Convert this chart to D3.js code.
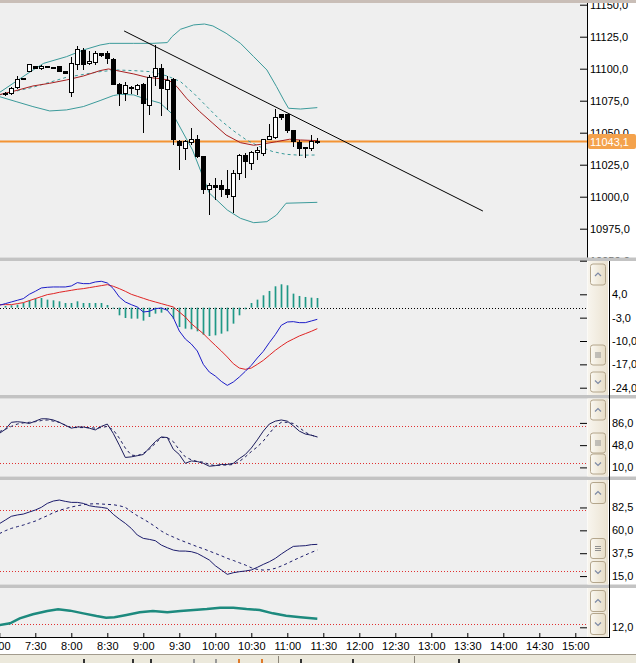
<!DOCTYPE html>
<html>
<head>
<meta charset="utf-8">
<script src="https://cdn.jsdelivr.net/npm/d3@7"></script>
<style>
  body { margin: 0; background: #fff; }
  svg { display: block; font-family: "Liberation Sans", Arial, sans-serif; font-size: 11px; }
</style>
</head>
<body>
<svg id="chart" width="636" height="663"></svg>
<script>
const parseT = d3.timeParse('%H:%M');

// 5 minute bars 7:05 .. 11:25, indicator points 7:00 .. 11:25
const barTimes = d3.timeMinute.range(parseT('7:05'), parseT('11:30'), 5);
const lineTimes = d3.timeMinute.range(parseT('7:00'), parseT('11:30'), 5);

const open  = [11080, 11080.5, 11085.5, 11092.5, 11098, 11102, 11100, 11101.7, 11101.3, 11101.5, 11098, 11081.5, 11103.5, 11114.5, 11104, 11104.5, 11112, 11112, 11107.5, 11088, 11080.5, 11084.5, 11084, 11087.5, 11071, 11094, 11100.5, 11083.5, 11091.5, 11043.5, 11038, 11042, 11045, 11031.5, 11005.5, 11008.5, 11008.5, 11005.5, 11000, 11018.5, 11032.5, 11026, 11034.5, 11034, 11045, 11046, 11064, 11064, 11051.5, 11042, 11038.5, 11038, 11043.3];
const high  = [11082, 11085.5, 11094.5, 11093, 11104, 11102.5, 11103, 11102, 11101.6, 11102, 11098.5, 11109.5, 11118, 11116, 11113.5, 11114, 11112.5, 11113.5, 11108, 11088.5, 11090, 11086.5, 11088, 11088.5, 11095, 11118.5, 11103.5, 11094, 11092.5, 11044.5, 11044.5, 11054, 11048, 11031.5, 11010.5, 11014.5, 11013, 11021, 11021, 11033, 11034, 11036, 11039, 11045, 11057, 11068.5, 11065, 11064.5, 11052.5, 11044, 11039, 11048, 11046];
const low   = [11079, 11079.5, 11084.5, 11091.5, 11097.5, 11100, 11099, 11101, 11100.8, 11097.5, 11095.5, 11078, 11099, 11099, 11103, 11103, 11109, 11104, 11087.5, 11071, 11074.5, 11080.5, 11079.5, 11050, 11064, 11086.5, 11063, 11068, 11040.5, 11020.5, 11028.5, 11040.5, 11030, 11002.5, 10985.5, 10997.5, 11000, 10999, 10987.5, 11013, 11015, 11020.5, 11029, 11031.5, 11044.5, 11045, 11060, 11049.5, 11039, 11032, 11030, 11036, 11041];
const close = [11081, 11084.5, 11091.5, 11092, 11103.5, 11100.5, 11102, 11101.3, 11101, 11098, 11096, 11104, 11115, 11103.5, 11106, 11112, 11110.5, 11108, 11088, 11080.5, 11086.5, 11085, 11086.5, 11073, 11093.5, 11100.5, 11084.5, 11091, 11044.5, 11040, 11043, 11045, 11031.5, 11005.5, 11009, 11007.5, 11006, 11002, 11018, 11032, 11027.5, 11034.5, 11036, 11044.5, 11047, 11062, 11062, 11051.5, 11043, 11037.5, 11037.5, 11043.5, 11043.1];
const lastPrice = 11043.1;

// overlays on the price panel [time, price]
const bbUpper = [['7:00', 11081.3], ['7:26', 11097.7], ['7:37', 11104.2], ['7:56', 11109.4], ['8:10', 11114.6], ['8:24', 11118.5], ['8:32', 11119.8], ['8:52', 11119.8], ['9:08', 11119.8], ['9:20', 11120.4], ['9:24', 11125.1], ['9:31', 11130.8], ['9:42', 11134.2], ['9:51', 11134.9], ['9:58', 11133.4], ['10:09', 11127.7], ['10:21', 11119.8], ['10:32', 11109.4], ['10:43', 11099], ['10:51', 11086], ['10:57', 11075.6], ['11:01', 11069.1], ['11:11', 11068.5], ['11:25', 11069.6]];
const bbMiddle = [['7:00', 11079.5], ['7:28', 11085.5], ['7:56', 11093.3], ['8:24', 11097.7], ['8:38', 11099], ['8:52', 11098.5], ['9:06', 11097.7], ['9:20', 11094.3], ['9:31', 11089.9], ['9:42', 11080.8], ['9:53', 11070.4], ['10:04', 11060], ['10:15', 11051.6], ['10:26', 11044.3], ['10:37', 11039.1], ['10:48', 11035.2], ['10:59', 11033.1], ['11:11', 11032.4], ['11:25', 11032.6]];
const bbLower = [['7:00', 11078.2], ['7:14', 11074.3], ['7:28', 11070.4], ['7:42', 11067], ['7:56', 11067.8], ['8:10', 11070.4], ['8:24', 11075.1], ['8:35', 11079], ['8:41', 11080], ['8:52', 11079.5], ['9:00', 11076.9], ['9:14', 11073.2], ['9:25', 11063.9], ['9:41', 11036.5], ['9:55', 11002.9], ['10:10', 10989.6], ['10:21', 10983.1], ['10:32', 10979.7], ['10:43', 10980.5], ['10:51', 10985.7], ['10:59', 10994.9], ['11:25', 10995.6]];
const movAvg = [['7:00', 11079.7], ['7:14', 11082.9], ['7:28', 11086.5], ['7:42', 11088.6], ['7:56', 11091.2], ['8:10', 11094.3], ['8:24', 11098.5], ['8:31', 11099.8], ['8:38', 11098.5], ['8:52', 11095.9], ['9:03', 11093.3], ['9:14', 11092.2], ['9:21', 11091.2], ['9:28', 11086], ['9:36', 11076.9], ['9:47', 11066.5], ['9:58', 11057.3], ['10:09', 11048.2], ['10:21', 11042.2], ['10:32', 11040.2], ['10:40', 11041.2], ['10:51', 11043], ['11:02', 11044.9], ['11:11', 11044.3], ['11:25', 11043.8]];
const trendLine = [['8:44', 11129.5], ['13:43', 10988.8]];

// MACD
const macdLine = [0.7, 1.2, 1.7, 2.2, 2.7, 4.0, 4.9, 5.9, 6.1, 6.2, 6.2, 6.2, 6.5, 7.5, 7.2, 7.2, 7.7, 7.9, 7.4, 5.7, 3.2, 1.7, 0.9, 0.2, -1.3, -1.1, -0.3, -0.1, -0.8, -3.0, -7.0, -9.4, -10.9, -13.0, -17.0, -19.3, -20.5, -22.1, -23.3, -22.3, -20.8, -19.1, -17.3, -15.1, -13.1, -10.5, -8.1, -5.3, -4.3, -4.2, -4.5, -4.5, -4.0, -3.5];
const macdSignal = [0.9, 0.9, 0.9, 1.2, 1.5, 2.1, 2.7, 3.3, 3.9, 4.2, 4.6, 4.9, 5.2, 5.5, 5.7, 6.0, 6.3, 6.6, 6.9, 6.4, 5.7, 4.9, 4.0, 3.4, 2.8, 2.2, 1.7, 1.2, 0.7, 0.2, -1.3, -2.8, -4.8, -6.3, -7.8, -9.6, -11.3, -13.0, -14.8, -16.8, -18.1, -18.5, -18.1, -17.0, -15.8, -14.3, -12.8, -11.5, -10.3, -9.4, -8.5, -7.8, -7.1, -6.3];
const macdHist = [0.5, 0.7, 0.9, 1.4, 2.2, 2.7, 2.9, 2.4, 2.2, 1.9, 1.4, 1.4, 1.9, 1.4, 1.4, 1.4, 1.4, 0.8, -0.3, -2.3, -3.1, -3.3, -3.3, -3.9, -2.8, -1.8, -1.5, -0.8, -3.3, -5.8, -6.3, -6.5, -7.1, -8.1, -8.5, -8.3, -7.8, -7.1, -4.8, -2.3, -0.5, 1.4, 2.4, 3.7, 5.0, 6.4, 7.0, 6.7, 4.2, 3.5, 3.2, 3.0, 2.9];

// Stochastic
const stochK = [68, 75, 87, 88, 87, 85, 89, 93, 93, 91, 87, 82, 77, 79, 79, 77, 74, 80, 84, 68, 48, 27, 28, 30, 32, 43, 54, 62, 61, 41, 32, 17, 21, 20, 17, 12, 13, 15, 15, 17, 25, 32, 43, 57, 72, 84, 89, 91, 89, 81, 72, 67, 65, 62];
const stochD = [71, 75, 80, 84, 86, 87, 88, 90, 91, 89, 87, 82, 78, 78, 78, 78, 77, 78, 80, 74, 60, 43, 31, 30, 34, 41, 51, 61, 61, 54, 40, 28, 23, 20, 19, 15, 13, 14, 14, 15, 20, 28, 37, 45, 55, 68, 80, 87, 87, 85, 78, 70, 65, 62];
const stochLevels = [80, 18];

// RSI
const rsiLine = [66.5, 70.1, 73.8, 75.1, 76.0, 78.0, 80.0, 82.6, 86.5, 88.8, 89.8, 88.5, 87.5, 87.5, 86.5, 84.2, 83.2, 82.6, 81.6, 75.7, 71.1, 66.9, 61.9, 55.4, 52.1, 51.1, 49.8, 45.5, 42.9, 40.6, 39.6, 39.6, 39.0, 37.3, 34.1, 30.8, 25.2, 21.0, 16.7, 18.3, 19.3, 20.0, 21.0, 23.6, 26.5, 29.1, 32.4, 36.7, 40.6, 44.2, 44.6, 44.9, 45.9, 46.2];
const rsiSignal = [56.7, 59.6, 61.9, 63.6, 65.2, 67.2, 69.1, 71.8, 74.4, 77.3, 79.6, 81.3, 82.9, 84.2, 85.2, 85.9, 86.2, 85.9, 85.5, 85.2, 84.2, 82.6, 78.3, 74.4, 71.1, 67.5, 63.6, 59.3, 56.0, 53.4, 50.8, 48.5, 46.2, 43.9, 41.9, 39.6, 37.3, 35.0, 32.4, 30.4, 28.1, 25.9, 23.2, 21.6, 20.9, 21.3, 22.6, 24.9, 27.5, 30.4, 33.1, 35.7, 38.3, 40.6];
const rsiLevels = [80, 20];

// bottom indicator
const volaLine = [['7:00', 13.5], ['7:09', 14.7], ['7:17', 18.0], ['7:28', 20.7], ['7:40', 22.9], ['7:49', 24.0], ['7:59', 23.1], ['8:10', 21.3], ['8:21', 19.5], ['8:29', 18.4], ['8:36', 18.7], ['8:46', 20.2], ['8:57', 22.0], ['9:08', 22.9], ['9:20', 22.0], ['9:31', 22.9], ['9:42', 23.5], ['9:53', 24.2], ['10:04', 25.1], ['10:15', 25.1], ['10:26', 24.2], ['10:37', 23.5], ['10:48', 21.3], ['10:59', 19.7], ['11:11', 18.7], ['11:25', 17.7]];
const volaLevel = 14;

// tick labels
const priceTicks = [10950, 10975, 11000, 11025, 11050, 11075, 11100, 11125, 11150];
const macdTicks = [4, -3, -10, -17, -24];
const stochTicks = [86, 48, 10];
const rsiTicks = [82.5, 60, 37.5, 15];
const volaTicks = [12];
const timeTicks = d3.timeMinute.range(parseT('7:00'), parseT('15:01'), 30);

const fmt = d3.formatLocale({decimal: ',', thousands: '.', grouping: [3], currency: ['', ''], minus: '-'}).format('.1f');
const fontFam = '"Liberation Sans", Arial, sans-serif';

const svg = d3.select('#chart');
const plotR = 587;

const x = d3.scaleTime().domain([parseT('7:00'), parseT('15:00')]).range([-0.7, 575.3]);
const yP = d3.scaleLinear().domain([10950, 11150]).range([260.7, 4.7]);
const yM = d3.scaleLinear().domain([-24, 4]).range([387.7, 294.3]);
const yS = d3.scaleLinear().domain([10, 86]).range([467.4, 422.9]);
const yR = d3.scaleLinear().domain([20, 80]).range([571, 510]);
const yV = d3.scaleLinear().domain([12, 40]).range([627.3, 585.3]);

const panels = [
  {top: 3, bottom: 257.5},
  {top: 261, bottom: 395},
  {top: 398.5, bottom: 476.5},
  {top: 480, bottom: 584.5},
  {top: 588, bottom: 638}
];

// ---- frame ----
svg.append('rect').attr('width', 636).attr('height', 663).attr('fill', '#fff');
svg.append('rect').attr('width', 636).attr('height', 3).attr('fill', '#c9beb7');
panels.forEach(p => {
  svg.append('rect').attr('x', 0).attr('y', p.top).attr('width', plotR).attr('height', p.bottom - p.top).attr('fill', '#efefef');
});
[257.5, 395, 476.5, 584.5].forEach(s => {
  svg.append('rect').attr('x', 0).attr('y', s).attr('width', 636).attr('height', 3.5).attr('fill', '#c3c3c3');
});

const defs = svg.append('defs');
defs.append('clipPath').attr('id', 'clipMain').append('rect').attr('x', 0).attr('y', 3).attr('width', plotR).attr('height', 254.5);
defs.append('clipPath').attr('id', 'clipPriceAxis').append('rect').attr('x', plotR).attr('y', 3).attr('width', 49).attr('height', 254.5);
const grad = defs.append('linearGradient').attr('id', 'btn').attr('x1', 0).attr('x2', 1).attr('y1', 0).attr('y2', 0);
grad.append('stop').attr('offset', 0).attr('stop-color', '#fbf9f3');
grad.append('stop').attr('offset', 1).attr('stop-color', '#e6dcc6');
const trackGrad = defs.append('linearGradient').attr('id', 'track').attr('x1', 0).attr('x2', 1).attr('y1', 0).attr('y2', 0);
trackGrad.append('stop').attr('offset', 0).attr('stop-color', '#f8f5ee');
trackGrad.append('stop').attr('offset', 1).attr('stop-color', '#ebe3d2');

function axisStyle(g) {
  g.attr('font-size', 11).attr('font-family', fontFam);
  g.select('.domain').remove();
  g.selectAll('line').attr('stroke', '#000');
  g.selectAll('text').attr('fill', '#000');
}

// ---- price panel ----
const main = svg.append('g').attr('clip-path', 'url(#clipMain)');
const lineP = d3.line().x(d => x(parseT(d[0]))).y(d => yP(d[1]));

main.append('line').attr('x1', 0).attr('x2', plotR).attr('y1', yP(lastPrice)).attr('y2', yP(lastPrice))
  .attr('stroke', '#f39434').attr('stroke-width', 2);

main.append('path').datum(bbUpper).attr('d', lineP).attr('fill', 'none').attr('stroke', '#3b9a9a');
main.append('path').datum(bbLower).attr('d', lineP).attr('fill', 'none').attr('stroke', '#3b9a9a');
main.append('path').datum(bbMiddle).attr('d', lineP).attr('fill', 'none').attr('stroke', '#3b9a9a').attr('stroke-dasharray', '3,3');
main.append('path').datum(movAvg).attr('d', lineP).attr('fill', 'none').attr('stroke', '#a82020');

const candles = barTimes.map((t, i) => ({t, o: open[i], h: high[i], l: low[i], c: close[i]}));
const cg = main.append('g').attr('shape-rendering', 'crispEdges');
cg.selectAll('line').data(candles).join('line')
  .attr('x1', d => Math.round(x(d.t)) + 0.5).attr('x2', d => Math.round(x(d.t)) + 0.5)
  .attr('y1', d => yP(d.h)).attr('y2', d => yP(d.l))
  .attr('stroke', '#000');
cg.selectAll('rect').data(candles).join('rect')
  .attr('x', d => Math.round(x(d.t)) - 1.5)
  .attr('width', 4)
  .attr('y', d => yP(Math.max(d.o, d.c)))
  .attr('height', d => Math.max(1, Math.abs(yP(d.o) - yP(d.c))))
  .attr('fill', d => d.c < d.o ? '#000' : '#fff')
  .attr('stroke', '#000');

main.append('path').datum(trendLine).attr('d', lineP).attr('fill', 'none').attr('stroke', '#000');

// price axis
svg.append('line').attr('x1', plotR + 0.5).attr('x2', plotR + 0.5).attr('y1', 3).attr('y2', 257.5).attr('stroke', '#000');
svg.append('g').attr('transform', `translate(${plotR},0)`)
  .call(d3.axisLeft(yP).tickValues(priceTicks).tickSize(7).tickFormat(''))
  .call(axisStyle);
svg.append('g').attr('clip-path', 'url(#clipPriceAxis)')
  .append('g').attr('transform', `translate(${plotR},0)`)
  .call(d3.axisRight(yP).tickValues(priceTicks).tickSize(0).tickPadding(3).tickFormat(fmt))
  .call(axisStyle);
svg.append('rect').attr('x', 588).attr('y', yP(lastPrice) - 7.5).attr('width', 48).attr('height', 15).attr('rx', 2)
  .attr('fill', '#f4a24c');
svg.append('text').attr('x', 590).attr('y', yP(lastPrice) + 4).attr('fill', '#fff').text(fmt(lastPrice));

// ---- lower panels ----
function refLines(scale, levels, color) {
  svg.append('g').selectAll('line').data(levels).join('line')
    .attr('x1', 0).attr('x2', plotR)
    .attr('y1', d => Math.round(scale(d)) + 0.5).attr('y2', d => Math.round(scale(d)) + 0.5)
    .attr('stroke', color).attr('stroke-dasharray', '1,2');
}
function seriesLine(scale, values, color, dash, width) {
  svg.append('path').datum(values)
    .attr('d', d3.line().x((d, i) => x(lineTimes[i])).y(d => scale(d)))
    .attr('fill', 'none').attr('stroke', color).attr('stroke-width', width || 1)
    .attr('stroke-dasharray', dash || null);
}
function valueAxis(scale, ticks) {
  svg.append('g').attr('transform', `translate(${plotR},0)`)
    .call(d3.axisLeft(scale).tickValues(ticks).tickSize(7).tickFormat(''))
    .call(axisStyle);
  svg.append('g').attr('transform', 'translate(609,0)')
    .call(d3.axisRight(scale).tickValues(ticks).tickSize(0).tickPadding(3).tickFormat(fmt))
    .call(axisStyle);
}

// MACD
refLines(yM, [0], '#000');
svg.append('g').selectAll('line').data(macdHist).join('line')
  .attr('x1', (d, i) => Math.round(x(barTimes[i])) + 0.5).attr('x2', (d, i) => Math.round(x(barTimes[i])) + 0.5)
  .attr('y1', yM(0)).attr('y2', d => yM(d))
  .attr('stroke', '#1f9886').attr('stroke-width', 1.7);
seriesLine(yM, macdSignal, '#e02424');
seriesLine(yM, macdLine, '#1c1cc8');
valueAxis(yM, macdTicks);

// Stochastic
refLines(yS, stochLevels, '#e03030');
seriesLine(yS, stochD, '#1c1c5c', '3,3');
seriesLine(yS, stochK, '#1c1c5c');
valueAxis(yS, stochTicks);

// RSI
refLines(yR, rsiLevels, '#e03030');
seriesLine(yR, rsiSignal, '#1c1c6c', '3,3');
seriesLine(yR, rsiLine, '#1c1c6c');
valueAxis(yR, rsiTicks);

// bottom indicator
refLines(yV, [volaLevel], '#e03030');
svg.append('path').datum(volaLine)
  .attr('d', d3.line().x(d => x(parseT(d[0]))).y(d => yV(d[1])))
  .attr('fill', 'none').attr('stroke', '#1d8a7e').attr('stroke-width', 2.5);
valueAxis(yV, volaTicks);

// scroll bars of the sub panels
function scroller(p, parts) {
  const g = svg.append('g');
  g.append('rect').attr('x', 587.5).attr('y', p.top).attr('width', 20.5).attr('height', p.bottom - p.top).attr('fill', 'url(#track)');
  parts.forEach(b => {
    g.append('rect').attr('x', 590.5).attr('y', b.y + 0.5).attr('width', 15).attr('height', b.h).attr('rx', 2.5)
      .attr('fill', 'url(#btn)').attr('stroke', '#b4a68c');
    const cx = 598, cy = b.y + b.h / 2 + 0.5;
    if (b.kind === 'up') {
      g.append('path').attr('d', `M${cx - 3},${cy + 1.5}L${cx},${cy - 1.5}L${cx + 3},${cy + 1.5}`)
        .attr('fill', 'none').attr('stroke', '#7d8aa6').attr('stroke-width', 1.2);
    } else if (b.kind === 'down') {
      g.append('path').attr('d', `M${cx - 3},${cy - 1.5}L${cx},${cy + 1.5}L${cx + 3},${cy - 1.5}`)
        .attr('fill', 'none').attr('stroke', '#7d8aa6').attr('stroke-width', 1.2);
    } else {
      [-2, 0, 2].forEach(o => g.append('line').attr('x1', cx - 3).attr('x2', cx + 3).attr('y1', cy + o).attr('y2', cy + o)
        .attr('stroke', '#8f8f8f'));
    }
  });
}
scroller(panels[1], [{y: 263.5, h: 21, kind: 'up'}, {y: 344.5, h: 20, kind: 'thumb'}, {y: 371.5, h: 20, kind: 'down'}]);
scroller(panels[2], [{y: 399.5, h: 20, kind: 'up'}, {y: 432.5, h: 20, kind: 'thumb'}, {y: 453.5, h: 20, kind: 'down'}]);
scroller(panels[3], [{y: 482, h: 21, kind: 'up'}, {y: 538, h: 20, kind: 'thumb'}, {y: 561, h: 21, kind: 'down'}]);
scroller(panels[4], [{y: 590, h: 21, kind: 'up'}, {y: 613, h: 21, kind: 'down'}]);

svg.append('line').attr('x1', 609.5).attr('x2', 609.5).attr('y1', 261).attr('y2', 638).attr('stroke', '#000');

// ---- time axis ----
svg.append('line').attr('x1', 0).attr('x2', 610).attr('y1', 637.5).attr('y2', 637.5).attr('stroke', '#000');
svg.append('g').attr('transform', 'translate(0,638)')
  .call(d3.axisTop(x).tickValues(timeTicks).tickSize(5).tickFormat(''))
  .call(axisStyle);
svg.append('g').attr('transform', 'translate(0,638)')
  .call(d3.axisBottom(x).tickValues(timeTicks).tickSize(0).tickPadding(4).tickFormat(d3.timeFormat('%-H:%M')))
  .call(axisStyle);

// toolbar strip under the chart
svg.append('rect').attr('x', 0).attr('y', 654).attr('width', 636).attr('height', 9).attr('fill', '#ece9dc');
svg.append('line').attr('x1', 0).attr('x2', 636).attr('y1', 654.5).attr('y2', 654.5).attr('stroke', '#a39c8e');
[278.5, 414.5].forEach(v => svg.append('line').attr('x1', v).attr('x2', v).attr('y1', 656).attr('y2', 663).attr('stroke', '#8a8478'));
const toolIcons = [[83, '#333'], [132, '#333'], [150, '#333'], [193, '#999'], [215, '#999'], [238, '#e07a2a'], [261, '#e07a2a'], [300, '#333'], [352, '#333'], [458, '#333']];
toolIcons.forEach(([ix, col]) => svg.append('rect').attr('x', ix).attr('y', 659).attr('width', 2).attr('height', 4).attr('fill', col));
</script>
</body>
</html>
